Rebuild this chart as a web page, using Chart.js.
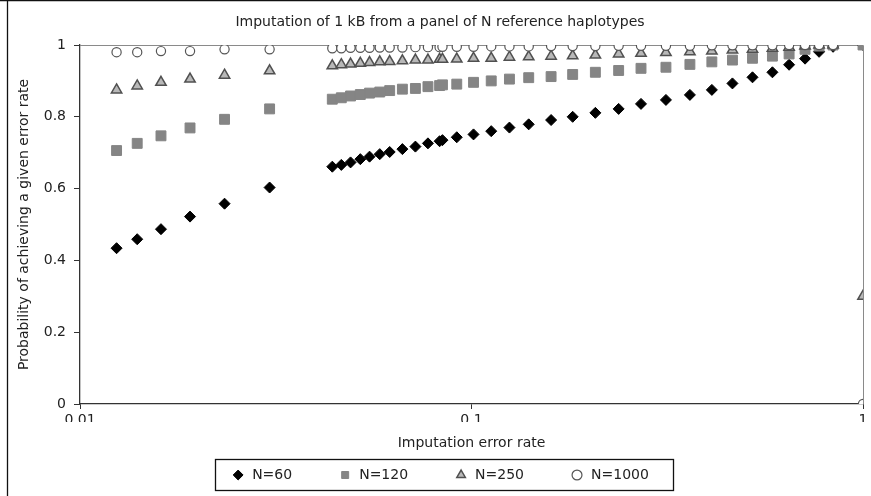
<!DOCTYPE html>
<html>
<head>
<meta charset="utf-8">
<script src="https://cdn.jsdelivr.net/npm/chart.js@4.4.1/dist/chart.umd.min.js"></script>
<style>
  html, body { margin: 0; padding: 0; background: #fff; }
</style>
</head>
<body>
<canvas id="myChart" width="871" height="496"></canvas>
<script>
// error rates (x)
const errorRates = [
  0.0124, 0.0140, 0.0161, 0.0191, 0.0234, 0.0305,
  0.0441, 0.0465, 0.0491, 0.0520, 0.0549, 0.0583, 0.0618, 0.0666, 0.0719, 0.0774,
  0.0829, 0.0843, 0.0917, 0.1012, 0.1123, 0.1250, 0.1400, 0.1597, 0.1813,
  0.2072, 0.2376, 0.2710, 0.3138, 0.3613, 0.4111, 0.4640, 0.5221, 0.5870,
  0.6475, 0.7112, 0.7724, 0.8386, 1.0
];
// probability of achieving the error rate, one list per panel size
const n60 = [
  0.434, 0.459, 0.487, 0.522, 0.558, 0.603,
  0.661, 0.666, 0.673, 0.682, 0.689, 0.696, 0.702, 0.710, 0.717, 0.726,
  0.732, 0.735, 0.743, 0.751, 0.760, 0.770, 0.779, 0.791, 0.800,
  0.811, 0.822, 0.836, 0.847, 0.861, 0.875, 0.893, 0.910, 0.924,
  0.945, 0.962, 0.981, 0.995, 1.0
];
const n120 = [
  0.706, 0.726, 0.747, 0.769, 0.793, 0.822,
  0.849, 0.853, 0.858, 0.862, 0.866, 0.869, 0.873, 0.877, 0.879, 0.884,
  0.887, 0.889, 0.891, 0.896, 0.900, 0.905, 0.909, 0.912, 0.918,
  0.924, 0.929, 0.935, 0.938, 0.946, 0.953, 0.958, 0.963, 0.969,
  0.975, 0.988, 0.997, 1.0, 1.0
];
const n250 = [
  0.875, 0.886, 0.896, 0.905, 0.916, 0.928,
  0.942, 0.945, 0.947, 0.949, 0.951, 0.953, 0.954, 0.956, 0.958, 0.958,
  0.960, 0.960, 0.961, 0.963, 0.963, 0.966, 0.967, 0.969, 0.970,
  0.972, 0.975, 0.977, 0.979, 0.981, 0.983, 0.986, 0.988, 0.991,
  0.994, 0.997, 1.0, 1.0, 0.30
];
const n1000 = [
  0.980, 0.980, 0.983, 0.983, 0.988, 0.988,
  0.991, 0.991, 0.992, 0.992, 0.992, 0.993, 0.993, 0.993, 0.994, 0.994,
  0.994, 0.995, 0.995, 0.995, 0.996, 0.996, 0.996, 0.997, 0.997,
  0.997, 0.998, 0.998, 0.998, 0.998, 0.999, 0.999, 0.999, 0.999,
  1.0, 1.0, 1.0, 1.0, 0.0
];
const xTicks = [0.01, 0.1, 1];

const FONT = 'DejaVu Sans';
const FS = 14;

function toPoints(ys) {
  return errorRates.map((x, i) => ({x: x, y: ys[i]}));
}

// white page, thin page border, grey top/right frame and a box round the legend
const framePlugin = {
  id: 'frame',
  beforeDraw(chart) {
    const ctx = chart.ctx;
    ctx.save();
    ctx.fillStyle = '#fff';
    ctx.fillRect(0, 0, chart.width, chart.height);
    ctx.strokeStyle = '#111';
    ctx.lineWidth = 1.3;
    ctx.beginPath();
    ctx.moveTo(7.5, 0);
    ctx.lineTo(7.5, chart.height);
    ctx.moveTo(0, 0.6);
    ctx.lineTo(chart.width, 0.6);
    ctx.stroke();
    ctx.restore();
  },
  beforeDatasetsDraw(chart) {
    const ctx = chart.ctx;
    const xs = chart.scales.x, ys = chart.scales.y;
    const top = Math.round(ys.getPixelForValue(1)) + 0.5;
    const right = Math.round(xs.getPixelForValue(1)) + 0.5;
    const bottom = ys.getPixelForValue(0);
    ctx.save();
    ctx.strokeStyle = '#8a8a8a';
    ctx.lineWidth = 1;
    ctx.beginPath();
    ctx.moveTo(xs.getPixelForValue(0.01), top);
    ctx.lineTo(right, top);
    ctx.lineTo(right, bottom);
    ctx.stroke();
    ctx.restore();
  },
  afterDraw(chart) {
    const boxes = chart.legend.legendHitBoxes;
    if (!boxes || !boxes.length) return;
    let l = Infinity, r = -Infinity, t = Infinity, b = -Infinity;
    boxes.forEach(h => {
      l = Math.min(l, h.left); r = Math.max(r, h.left + h.width);
      t = Math.min(t, h.top); b = Math.max(b, h.top + h.height);
    });
    const ctx = chart.ctx;
    ctx.save();
    ctx.strokeStyle = '#111';
    ctx.lineWidth = 1.3;
    const x0 = Math.round(l - 16) + 0.5, y0 = Math.round(t - 9) + 0.5;
    ctx.strokeRect(x0, y0, Math.round(r + 24) - x0 + 0.5, Math.round(b + 8) - y0 + 0.5);
    ctx.restore();
  }
};

const ctx = document.getElementById('myChart').getContext('2d');
const chart = new Chart(ctx, {
  type: 'scatter',
  data: {
    datasets: [
      {
        label: 'N=60',
        data: toPoints(n60),
        pointStyle: 'rectRot',
        radius: 5.5,
        backgroundColor: '#000',
        borderColor: '#000',
        borderWidth: 1,
        order: 4
      },
      {
        label: 'N=120',
        data: toPoints(n120),
        pointStyle: 'rect',
        radius: 7,
        backgroundColor: '#858585',
        borderColor: '#858585',
        borderWidth: 1,
        order: 3
      },
      {
        label: 'N=250',
        data: toPoints(n250),
        pointStyle: 'triangle',
        radius: 6,
        backgroundColor: '#b8b8b8',
        borderColor: '#505050',
        borderWidth: 1.5,
        order: 2
      },
      {
        label: 'N=1000',
        data: toPoints(n1000),
        pointStyle: 'circle',
        radius: 4.6,
        backgroundColor: '#fff',
        borderColor: '#555',
        borderWidth: 1.2,
        order: 1
      }
    ]
  },
  options: {
    responsive: false,
    animation: false,
    events: [],
    layout: { padding: { left: 16, right: 7, top: 0, bottom: 4 } },
    plugins: {
      title: {
        display: true,
        text: 'Imputation of 1 kB from a panel of N reference haplotypes',
        color: '#222',
        font: { family: FONT, size: FS, weight: 'normal' },
        padding: { top: 13.6, bottom: 14.6 }
      },
      legend: {
        position: 'bottom',
        labels: {
          usePointStyle: true,
          boxWidth: 14,
          boxHeight: 7,
          padding: 46,
          color: '#222',
          font: { family: FONT, size: FS },
          sort: (a, b) => a.datasetIndex - b.datasetIndex
        }
      },
      tooltip: { enabled: false }
    },
    scales: {
      x: {
        type: 'logarithmic',
        min: 0.01,
        max: 1,
        afterBuildTicks: scale => {
          scale.ticks = xTicks.map(v => ({value: v, major: true}));
        },
        afterFit: scale => { scale.height = 18; },
        ticks: {
          color: '#222',
          font: { family: FONT, size: FS },
          padding: 3,
          maxRotation: 0,
          autoSkip: false,
          callback: v => String(v)
        },
        grid: { drawOnChartArea: false, drawTicks: true, tickLength: 5, color: '#333' },
        border: { display: true, color: '#333', width: 1.3 },
        title: {
          display: true,
          text: 'Imputation error rate',
          color: '#222',
          font: { family: FONT, size: FS },
          padding: { top: 0, bottom: -29.4 }
        }
      },
      y: {
        min: 0,
        max: 1,
        afterFit: scale => { scale.width = 64; },
        ticks: {
          stepSize: 0.2,
          color: '#222',
          font: { family: FONT, size: FS },
          padding: 8,
          callback: v => String(Math.round(v * 10) / 10)
        },
        grid: { drawOnChartArea: false, drawTicks: true, tickLength: 6, color: '#333' },
        border: { display: true, color: '#333', width: 1.3 },
        title: {
          display: true,
          text: 'Probability of achieving a given error rate',
          color: '#222',
          font: { family: FONT, size: FS },
          padding: { top: 0, bottom: 0 }
        }
      }
    }
  },
  plugins: [framePlugin]
});
</script>
</body>
</html>
